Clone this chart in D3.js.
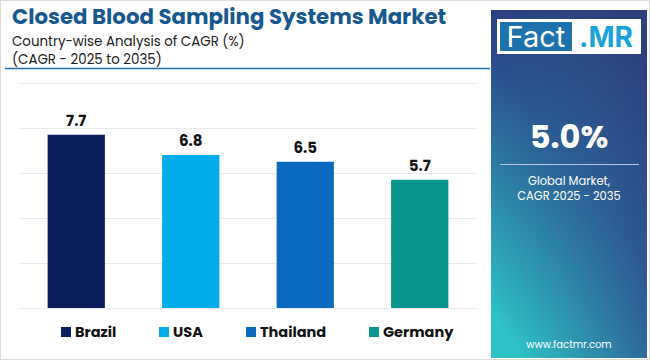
<!DOCTYPE html>
<html><head><meta charset="utf-8">
<script src="https://cdn.jsdelivr.net/npm/d3@7"></script>
<style>html,body{margin:0;padding:0;background:#fff;}svg{display:block;}</style>
</head><body>
<script>
const categories = ["Brazil", "USA", "Thailand", "Germany"];
const values = [7.7, 6.8, 6.5, 5.7];
const colors = ["#0b1e5b", "#00adea", "#0a6abf", "#08968f"];
const yTicks = [0, 2, 4, 6, 8, 10];
const titleText = "Closed Blood Sampling Systems Market";
const subtitleLines = ["Country-wise Analysis of CAGR (%)", "(CAGR - 2025 to 2035)"];
const globalValue = "5.0%";
const globalLines = ["Global Market,", "CAGR 2025 - 2035"];

const W = 650, H = 360;
const svg = d3.select("body").append("svg").attr("width", W).attr("height", H);
const defs = svg.append("defs");

const pg = defs.append("linearGradient").attr("id", "pg")
  .attr("x1", "0.8").attr("y1", "0").attr("x2", "0.2").attr("y2", "1");
pg.append("stop").attr("offset", "0").attr("stop-color", "#2a1863");
pg.append("stop").attr("offset", "0.45").attr("stop-color", "#2b4a8c");
pg.append("stop").attr("offset", "1").attr("stop-color", "#2ec3c6");
const pg2 = defs.append("linearGradient").attr("id", "pg2")
  .attr("x1", "0").attr("y1", "0").attr("x2", "1").attr("y2", "0");
pg2.append("stop").attr("offset", "0").attr("stop-color", "#2ec3c6").attr("stop-opacity", 0);
pg2.append("stop").attr("offset", "1").attr("stop-color", "#2f5f96").attr("stop-opacity", 0.55);
const lg = defs.append("linearGradient").attr("id", "lg")
  .attr("x1", "0").attr("y1", "0").attr("x2", "1").attr("y2", "0");
lg.append("stop").attr("offset", "0").attr("stop-color", "#1f6fa8");
lg.append("stop").attr("offset", "1").attr("stop-color", "#3a8fc0");

// outer border
svg.append("rect").attr("x", 0.5).attr("y", 0.5).attr("width", W - 1).attr("height", H - 1)
  .attr("fill", "none").attr("stroke", "#dcdcdc");

// title
svg.append("text").attr("x", 12).attr("y", 23.5).text(titleText)
  .attr("font-family", "Poppins, Inter, sans-serif").attr("font-weight", 700)
  .attr("font-size", 21.3).attr("fill", "#16588f");
subtitleLines.forEach((t, i) => {
  svg.append("text").attr("x", 12).attr("y", 45.5 + i * 18.5).text(t)
    .attr("font-family", "Poppins, Inter, sans-serif").attr("font-size", 13.4).attr("fill", "#222");
});
svg.append("line").attr("x1", 5).attr("x2", 490).attr("y1", 68.5).attr("y2", 68.5)
  .attr("stroke", "#1f6fa8").attr("stroke-width", 1.5);

// chart
const x = d3.scaleBand().domain(categories).range([19, 477]).paddingInner(0.5).paddingOuter(0.25);
const y = d3.scaleLinear().domain([0, 10]).range([308, 83]);

const grid = svg.append("g");
grid.selectAll("line").data(yTicks).join("line")
  .attr("x1", 19).attr("x2", 477)
  .attr("y1", d => Math.round(y(d)) + 0.5).attr("y2", d => Math.round(y(d)) + 0.5)
  .attr("stroke", "#e8e8ee").attr("stroke-width", 1);

svg.append("g").selectAll("rect").data(values).join("rect")
  .attr("x", (d, i) => x(categories[i])).attr("width", x.bandwidth())
  .attr("y", d => y(d)).attr("height", d => y(0) - y(d))
  .attr("fill", (d, i) => colors[i]);

svg.append("g").selectAll("text").data(values).join("text")
  .attr("x", (d, i) => x(categories[i]) + x.bandwidth() / 2)
  .attr("y", d => y(d) - 9)
  .attr("text-anchor", "middle").text(d => d.toFixed(1))
  .attr("font-family", "Poppins, Inter, sans-serif").attr("font-weight", 700)
  .attr("font-size", 15).attr("fill", "#111");

// legend
const legX = [61, 159, 246, 369];
const leg = svg.append("g");
categories.forEach((c, i) => {
  leg.append("rect").attr("x", legX[i]).attr("y", 327).attr("width", 10).attr("height", 10).attr("fill", colors[i]);
  leg.append("text").attr("x", legX[i] + 14).attr("y", 337).text(c)
    .attr("font-family", "Poppins, Inter, sans-serif").attr("font-weight", 700)
    .attr("font-size", 14.5).attr("fill", "#111");
});

svg.append("line").attr("x1", 5).attr("x2", 492).attr("y1", 358).attr("y2", 358)
  .attr("stroke", "url(#lg)").attr("stroke-width", 2);

// right panel
const px = 491, py = 10, pw = 156, ph = 348;
svg.append("rect").attr("x", px).attr("y", py).attr("width", pw).attr("height", ph).attr("fill", "url(#pg)");
svg.append("rect").attr("x", px).attr("y", py).attr("width", pw).attr("height", ph).attr("fill", "url(#pg2)");

// logo
svg.append("rect").attr("x", 497).attr("y", 19).attr("width", 144).attr("height", 35).attr("fill", "#fff");
svg.append("rect").attr("x", 500).attr("y", 22).attr("width", 72).attr("height", 29).attr("fill", "#1d72ad");
svg.append("text").attr("x", 536).attr("y", 47).attr("text-anchor", "middle").text("Fact")
  .attr("font-family", "Inter, sans-serif").attr("font-size", 29).attr("fill", "#fff");
svg.append("text").attr("x", 606).attr("y", 47).attr("text-anchor", "middle").text(".MR")
  .attr("font-family", "Inter, sans-serif").attr("font-weight", 700).attr("font-size", 28).attr("fill", "#1aa3d9");

const cx = 569;
svg.append("text").attr("x", cx).attr("y", 148).attr("text-anchor", "middle").text(globalValue)
  .attr("font-family", "Poppins, Inter, sans-serif").attr("font-weight", 700)
  .attr("font-size", 32).attr("fill", "#fff");
svg.append("line").attr("x1", 500).attr("x2", 639).attr("y1", 164.5).attr("y2", 164.5)
  .attr("stroke", "#b8c4e0").attr("stroke-width", 1.2);
globalLines.forEach((t, i) => {
  svg.append("text").attr("x", cx).attr("y", 185 + i * 15).attr("text-anchor", "middle").text(t)
    .attr("font-family", "Poppins, Inter, sans-serif").attr("font-size", 11.5).attr("fill", "#fff");
});
svg.append("text").attr("x", cx).attr("y", 348).attr("text-anchor", "middle").text("www.factmr.com")
  .attr("font-family", "Poppins, Inter, sans-serif").attr("font-size", 10).attr("fill", "#fff");
</script>
</body></html>
